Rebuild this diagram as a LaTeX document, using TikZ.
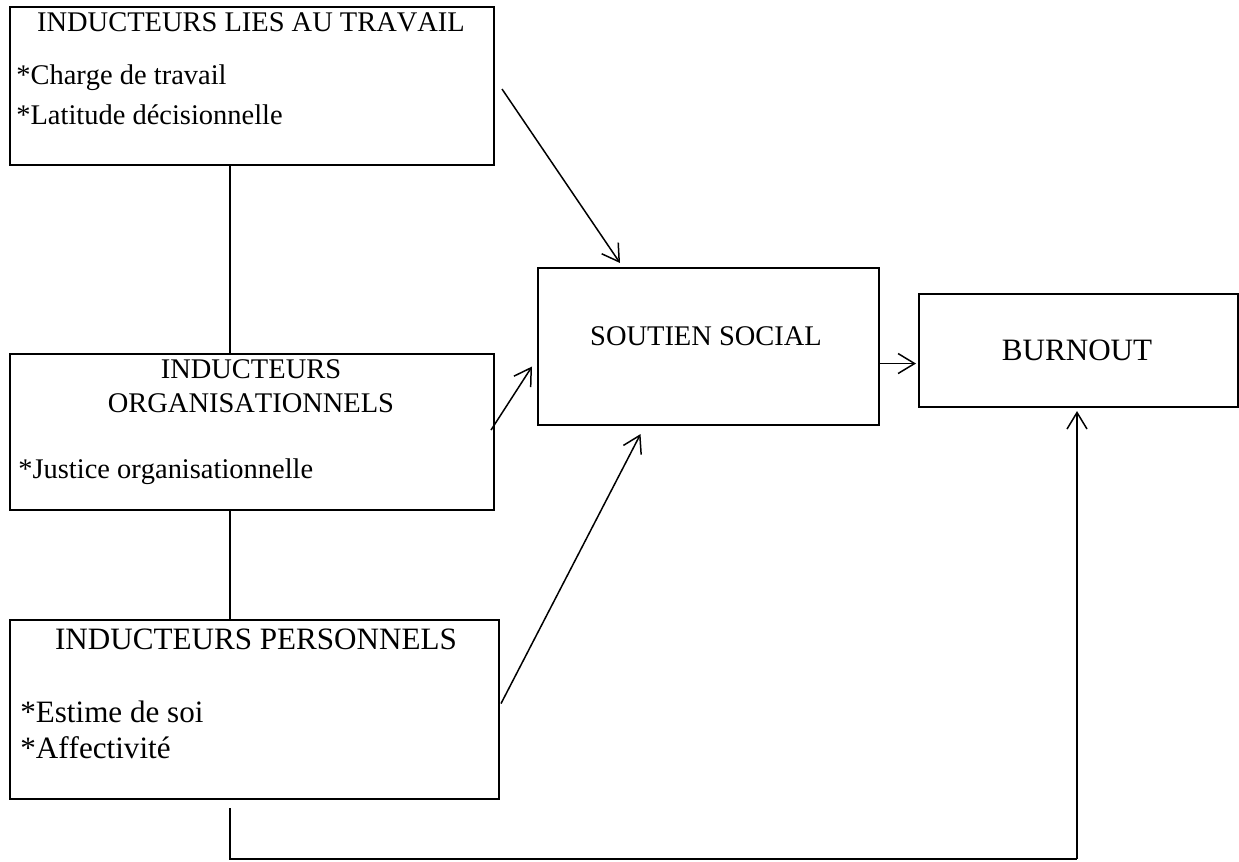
\documentclass[tikz,border=0pt]{standalone}
\usepackage{fontspec}
\setmainfont{Liberation Serif}[Kerning=Off]
\usetikzlibrary{arrows.meta}

\tikzset{
  box/.style={draw, line width=1.2pt, rectangle, inner sep=0pt, anchor=north west},
  link/.style={line width=1.35pt},
  arr/.style={line width=0.85pt, -{Straight Barb[length=3.3mm,width=4mm,line width=0.85pt]}},
  txt/.style={inner sep=0pt, font=\fontsize{16.2}{19}\selectfont},
  bigtxt/.style={inner sep=0pt, font=\fontsize{17.7}{21}\selectfont}
}

\begin{document}
\begin{tikzpicture}[x=0.02cm, y=-0.02cm]
    \useasboundingbox (0,0) rectangle (1239,861);

    % Travail
    \node[box, minimum width=9.68cm, minimum height=3.16cm] (travail) at (9,6) {};
    \node[txt, anchor=base] (travailT) at (251,32) {INDUCTEURS LIES AU TRAVAIL};
    \node[txt, anchor=base west] (charge) at (16,85) {*Charge de travail};
    \node[txt, anchor=base west] (latitude) at (16,125) {*Latitude décisionnelle};

    % Organisationnels
    \node[box, minimum width=9.68cm, minimum height=3.12cm] (orga) at (9,353) {};
    \node[txt, anchor=base] (orgaT1) at (251,378) {INDUCTEURS};
    \node[txt, anchor=base] (orgaT2) at (251,412) {ORGANISATIONNELS};
    \node[txt, anchor=base west] (justice) at (18,478) {*Justice organisationnelle};

    % Personnels
    \node[box, minimum width=9.78cm, minimum height=3.58cm] (perso) at (9,619) {};
    \node[bigtxt, anchor=base] (persoT) at (256,649) {INDUCTEURS PERSONNELS};
    \node[bigtxt, anchor=base west] (estime) at (20,722) {*Estime de soi};
    \node[bigtxt, anchor=base west] (affect) at (20,758) {*Affectivité};

    % Soutien social
    \node[box, minimum width=6.82cm, minimum height=3.14cm] (soutien) at (537,267) {};
    \node[txt, anchor=base] (soutienT) at (706,345) {SOUTIEN SOCIAL};

    % Burnout
    \node[box, minimum width=6.38cm, minimum height=2.26cm] (burnout) at (918,293) {};
    \node[bigtxt, anchor=base] (burnoutT) at (1077,360) {BURNOUT};

    % Liens
    \coordinate (spine) at (230,0);
    \coordinate (base) at (1077,859);
    \draw[link] (travail.south -| spine) -- (orga.north -| spine);
    \draw[link] (orga.south -| spine) -- (perso.north -| spine);
    \draw[link] ([shift={(0,8)}]perso.south -| spine) |- (base);
    \draw[arr] (base) -- ([shift={(0,3)}]burnout.south -| base);

    % Fleches
    \draw[arr] ([shift={(7,3)}]travail.east) -- ([shift={(83,-4)}]soutien.north west);
    \draw[arr] ([shift={(-4,-2)}]orga.east) -- ([shift={(-5,20)}]soutien.west);
    \draw[arr] ([shift={(1,-6)}]perso.east) -- ([shift={(-68,8)}]soutien.south);
    \coordinate (s2b) at ([shift={(0,17)}]soutien.east);
    \draw[arr] (s2b) -- ([shift={(-2,0)}]burnout.west |- s2b);
\end{tikzpicture}
\end{document}
